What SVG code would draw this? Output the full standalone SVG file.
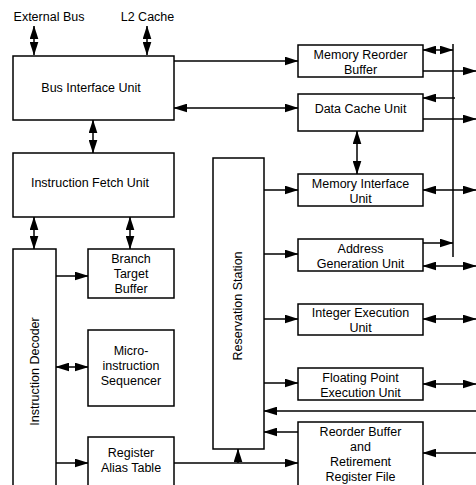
<svg xmlns="http://www.w3.org/2000/svg" width="476" height="485" viewBox="0 0 476 485">
<defs>
<marker id="ah" markerUnits="strokeWidth" viewBox="0 0 14 9" markerWidth="9.333" markerHeight="6" refX="13.5" refY="4.5" orient="auto-start-reverse">
<path d="M0,0 L14,4.5 L0,9 z" fill="#000"/>
</marker>
<style>
.box{fill:#fff;stroke:#000;stroke-width:1.5}
.t{font-family:"Liberation Sans",Arial,Helvetica,sans-serif;font-size:12.5px;fill:#000;text-anchor:middle}
.c line{stroke:#000;stroke-width:1.5}
.e{marker-end:url(#ah)}
.b{marker-start:url(#ah);marker-end:url(#ah)}
</style>
</defs>
<rect width="476" height="485" fill="#fff"/>
<g id="labels">
<text class="t" x="49" y="21">External Bus</text>
<text class="t" x="147.5" y="21">L2 Cache</text>
</g>
<g id="biu"><rect class="box" x="13" y="56" width="161" height="64"/><text class="t" x="91" y="92">Bus Interface Unit</text></g>
<g id="ifu"><rect class="box" x="13" y="153" width="161" height="64"/><text class="t" x="90" y="187">Instruction Fetch Unit</text></g>
<g id="id"><rect class="box" x="13" y="249" width="43" height="245"/><text class="t" x="34.5" y="371.5" dy="0.35em" transform="rotate(-90 34.5 371.5)">Instruction Decoder</text></g>
<g id="btb"><rect class="box" x="88" y="249" width="86" height="49"/><text class="t" x="131" y="263">Branch</text><text class="t" x="131" y="278">Target</text><text class="t" x="131" y="293">Buffer</text></g>
<g id="mis"><rect class="box" x="88" y="330" width="86" height="76"/><text class="t" x="131" y="355">Micro-</text><text class="t" x="131" y="370">instruction</text><text class="t" x="131" y="385">Sequencer</text></g>
<g id="rat"><rect class="box" x="88" y="437" width="86" height="60"/><text class="t" x="131" y="457">Register</text><text class="t" x="131" y="472">Alias Table</text></g>
<g id="rs"><rect class="box" x="213" y="158" width="51" height="291"/><text class="t" x="238" y="306" dy="0.35em" transform="rotate(-90 238 306)">Reservation Station</text></g>
<g id="mrb"><rect class="box" x="298" y="45" width="125" height="32"/><text class="t" x="360.5" y="59">Memory Reorder</text><text class="t" x="360.5" y="74">Buffer</text></g>
<g id="dcu"><rect class="box" x="298" y="94" width="125" height="37"/><text class="t" x="360.5" y="113">Data Cache Unit</text></g>
<g id="miu"><rect class="box" x="298" y="174" width="125" height="32"/><text class="t" x="360.5" y="188">Memory Interface</text><text class="t" x="360.5" y="203">Unit</text></g>
<g id="agu"><rect class="box" x="298" y="239" width="125" height="32"/><text class="t" x="360.5" y="253">Address</text><text class="t" x="360.5" y="268">Generation Unit</text></g>
<g id="ieu"><rect class="box" x="298" y="304" width="125" height="31"/><text class="t" x="360.5" y="317">Integer Execution</text><text class="t" x="360.5" y="332">Unit</text></g>
<g id="fpeu"><rect class="box" x="298" y="368" width="125" height="32"/><text class="t" x="360.5" y="382">Floating Point</text><text class="t" x="360.5" y="397">Execution Unit</text></g>
<g id="rob"><rect class="box" x="298" y="422" width="125" height="75"/><text class="t" x="360.5" y="436">Reorder Buffer</text><text class="t" x="360.5" y="451">and</text><text class="t" x="360.5" y="466">Retirement</text><text class="t" x="360.5" y="481">Register File</text></g>
<g id="connectors" class="c">
<line class="b" x1="34" y1="26" x2="34" y2="55"/>
<line class="b" x1="147" y1="26" x2="147" y2="55"/>
<line class="e" x1="174" y1="61" x2="298" y2="61"/>
<line class="b" x1="174" y1="108" x2="298" y2="108"/>
<line class="b" x1="93" y1="120" x2="93" y2="153"/>
<line class="b" x1="34" y1="217" x2="34" y2="249"/>
<line class="b" x1="130" y1="217" x2="130" y2="249"/>
<line class="e" x1="56" y1="276" x2="88" y2="276"/>
<line class="b" x1="56" y1="367" x2="88" y2="367"/>
<line class="e" x1="56" y1="463" x2="88" y2="463"/>
<line class="e" x1="174" y1="463" x2="298" y2="463"/>
<line class="e" x1="238" y1="463" x2="238" y2="449"/>
<line class="e" x1="264" y1="190" x2="298" y2="190"/>
<line class="e" x1="264" y1="254" x2="298" y2="254"/>
<line class="e" x1="264" y1="319" x2="298" y2="319"/>
<line class="e" x1="264" y1="383" x2="298" y2="383"/>
<line class="e" x1="476" y1="411" x2="264" y2="411"/>
<line class="e" x1="298" y1="432" x2="264" y2="432"/>
<line class="e" x1="476" y1="453" x2="423" y2="453"/>
<line x1="453" y1="44" x2="453" y2="257"/>
<line class="b" x1="423" y1="50" x2="453" y2="50"/>
<line class="e" x1="423" y1="71" x2="476" y2="71"/>
<line class="e" x1="455" y1="98" x2="423" y2="98"/>
<line class="e" x1="423" y1="119" x2="476" y2="119"/>
<line class="b" x1="357" y1="131" x2="357" y2="174"/>
<line class="b" x1="423" y1="190" x2="476" y2="190"/>
<line class="e" x1="423" y1="243" x2="453" y2="243"/>
<line class="b" x1="423" y1="266" x2="476" y2="266"/>
<line class="b" x1="423" y1="319" x2="476" y2="319"/>
<line class="b" x1="423" y1="384" x2="476" y2="384"/>
</g>
</svg>
